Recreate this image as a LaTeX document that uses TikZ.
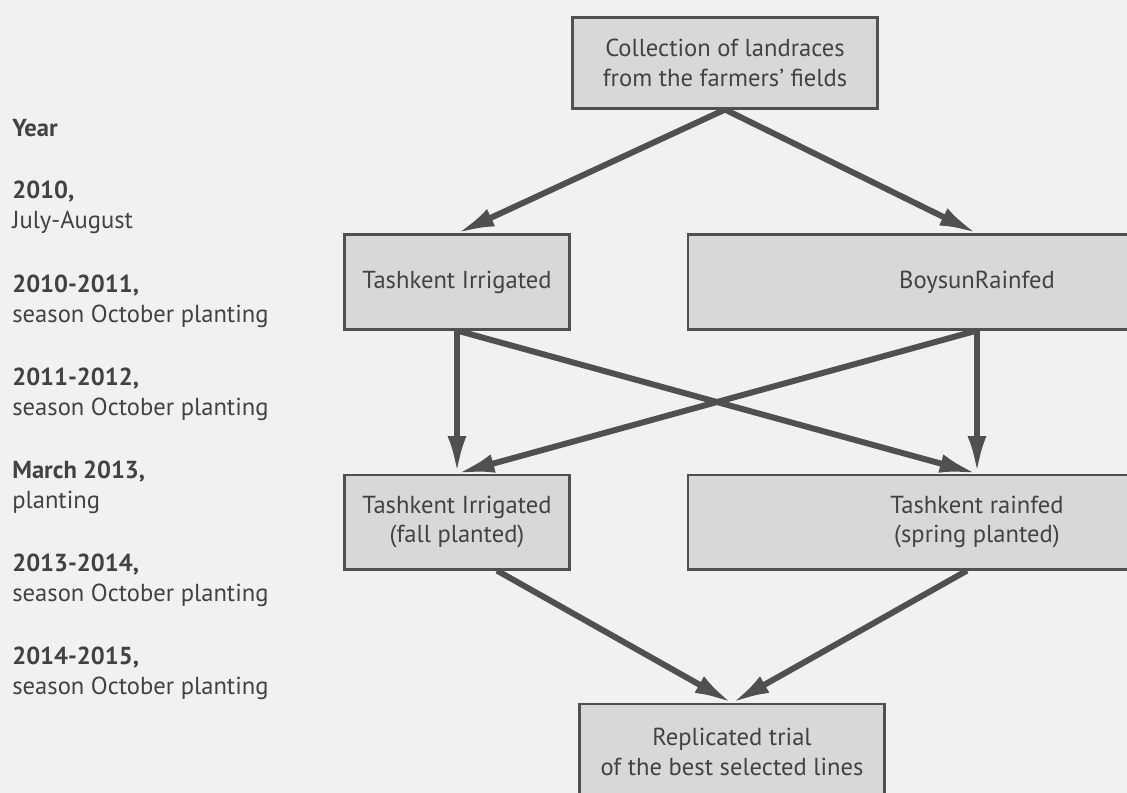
\documentclass[tikz,border=0pt]{standalone}
\usepackage{fontspec}
\setmainfont{PT Sans}
\usetikzlibrary{positioning, arrows.meta, calc}
\definecolor{pagegray}{RGB}{241, 241, 241}
\definecolor{boxgray}{RGB}{216, 216, 216}
\definecolor{darkline}{RGB}{80, 80, 80}
\definecolor{inkgray}{RGB}{66, 66, 66}

\begin{document}
\begin{tikzpicture}[
    x=0.02cm, y=0.02cm,
    font=\fontsize{14}{17}\selectfont,
    text=inkgray,
    stageblock/.style={
        rectangle,
        draw=darkline,
        line width=1.2pt,
        fill=boxgray,
        minimum width=4.5cm,
        minimum height=1.9cm,
        align=center,
        inner sep=0pt
    },
    wideblock/.style={stageblock, minimum width=11.56cm},
    yearlabel/.style={anchor=west, align=left, inner sep=0pt},
    arrowstyle/.style={draw=darkline, line width=3.4pt, -{Latex[length=0.75cm, width=0.38cm]}}
]

    % --- Page ---
    \useasboundingbox (0,0) rectangle (1127,-793);
    \clip (0,0) rectangle (1127,-793);
    \fill[pagegray] (0,0) rectangle (1127,-793);

    % --- Years column ---
    \node[yearlabel] (yearhead) at (12,-128) {\textbf{Year}};
    \node[yearlabel] (yr1) at (12,-207) {\textbf{2010,}\\July-August};
    \node[yearlabel] (yr2) at (12,-301) {\textbf{2010-2011,}\\season October planting};
    \node[yearlabel] (yr3) at (12,-394) {\textbf{2011-2012,}\\season October planting};
    \node[yearlabel] (yr4) at (12,-487) {\textbf{March 2013,}\\planting};
    \node[yearlabel] (yr5) at (12,-580) {\textbf{2013-2014,}\\season October planting};
    \node[yearlabel] (yr6) at (12,-673) {\textbf{2014-2015,}\\season October planting};

    % --- Flow ---

    % Nodes
    \node[stageblock, minimum width=6.1cm, minimum height=1.82cm] (collect) at (725,-63) {
        Collection of landraces\\from the farmers’ fields
    };

    \node[stageblock] (tashirr) at (457,-282) {Tashkent Irrigated};
    \node[wideblock] (boysun) at (977,-282) {BoysunRainfed};

    \node[stageblock, below=2.86cm of tashirr] (tashfall) {
        Tashkent Irrigated\\(fall planted)
    };
    \node[wideblock, below=2.86cm of boysun] (tashspring) {
        Tashkent rainfed\\(spring planted)
    };

    \node[stageblock, minimum width=6.1cm, anchor=north] (trial) at (732,-703) {
        Replicated trial\\of the best selected lines
    };

    % Arrows
    \draw[arrowstyle] (collect.south) -- (tashirr.north);
    \draw[arrowstyle] (collect.south) -- (boysun.north);

    \draw[arrowstyle] (tashirr.south) -- (tashfall.north);
    \draw[arrowstyle] (tashirr.south) -- (tashspring.north);
    \draw[arrowstyle] (boysun.south) -- (tashspring.north);
    \draw[arrowstyle] (boysun.south) -- (tashfall.north);

    \draw[arrowstyle] ([xshift=0.8cm]tashfall.south) -- (trial.north);
    \draw[arrowstyle] ([xshift=-0.2cm]tashspring.south) -- (trial.north);

\end{tikzpicture}
\end{document}
